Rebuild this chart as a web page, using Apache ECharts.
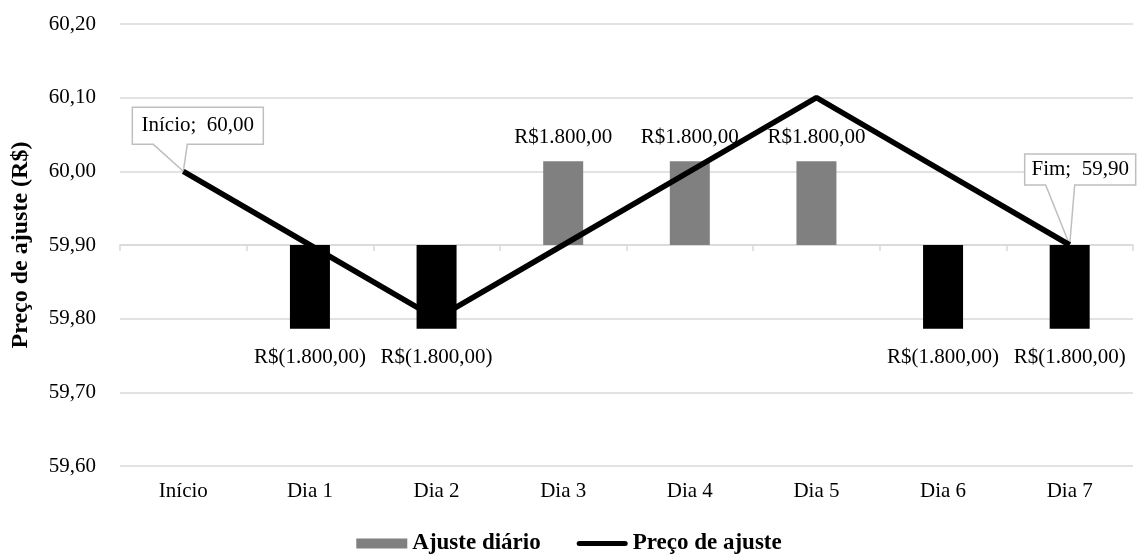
<!DOCTYPE html>
<html>
<head>
<meta charset="utf-8">
<style>
  html, body { margin: 0; padding: 0; background: #fff; }
  #chart { width: 1138px; height: 560px; }
</style>
<script src="https://cdn.jsdelivr.net/npm/echarts@6/dist/echarts.min.js"></script>
</head>
<body>
<div id="chart"></div>
<script>
// Categories along the x axis
const categories = ['Início', 'Dia 1', 'Dia 2', 'Dia 3', 'Dia 4', 'Dia 5', 'Dia 6', 'Dia 7'];
// Settlement price per day (R$)
const precoAjuste = [60.00, 59.90, 59.80, 59.90, 60.00, 60.10, 60.00, 59.90];
// Daily margin adjustment (R$)
const ajusteDiario = [null, -1800, -1800, 1800, 1800, 1800, -1800, -1800];
// Price axis ticks
const priceMin = 59.60;
const priceMax = 60.20;
const priceStep = 0.10;
// Callouts on the price line: [category index, caption]
const calloutPoints = [[0, 'Início'], [7, 'Fim']];

const FONT = '"Liberation Serif", "Times New Roman", serif';

function fmtNum(v, dec) {
  const parts = Math.abs(v).toFixed(dec).split('.');
  parts[0] = parts[0].replace(/\B(?=(\d{3})+(?!\d))/g, '.');
  return parts.join(',');
}
function fmtMoney(v) {
  return v < 0 ? 'R$(' + fmtNum(v, 2) + ')' : 'R$' + fmtNum(v, 2);
}

const barData = ajusteDiario.map(function (v) {
  if (v == null) return null;
  const neg = v < 0;
  return {
    value: v,
    itemStyle: { color: neg ? '#000000' : '#808080' },
    label: { position: neg ? 'bottom' : 'top', distance: neg ? 18 : 13 }
  };
});

const chart = echarts.init(document.getElementById('chart'), null, { renderer: 'canvas' });

chart.setOption({
  animation: false,
  backgroundColor: '#ffffff',
  textStyle: { fontFamily: FONT },
  grid: { left: 120, right: 5, top: 24, bottom: 94, containLabel: false },
  legend: {
    left: 'center',
    top: 527,
    itemWidth: 51,
    itemHeight: 10,
    itemGap: 36,
    textStyle: { fontFamily: FONT, fontSize: 23, fontWeight: 'bold', color: '#000' },
    data: [
      { name: 'Ajuste diário', icon: 'rect', itemStyle: { color: '#808080' } },
      {
        name: 'Preço de ajuste',
        icon: 'path://M2.5,0 L48.5,0 A2.5,2.5 0 0 1 48.5,5 L2.5,5 A2.5,2.5 0 0 1 2.5,0 Z',
        itemStyle: { color: '#000' }
      }
    ]
  },
  xAxis: {
    type: 'category',
    data: categories,
    boundaryGap: true,
    axisLine: { show: true, lineStyle: { color: '#d9d9d9', width: 1.5 } },
    axisTick: { show: true, length: 6, lineStyle: { color: '#d9d9d9', width: 1.5 } },
    axisLabel: { margin: 15, fontSize: 21, fontFamily: FONT, color: '#000' },
    splitLine: { show: false }
  },
  yAxis: [
    {
      type: 'value',
      min: priceMin,
      max: priceMax,
      interval: priceStep,
      name: 'Preço de ajuste (R$)',
      nameLocation: 'middle',
      nameGap: 87,
      nameTextStyle: { fontFamily: FONT, fontSize: 24, fontWeight: 'bold', color: '#000' },
      axisLine: { show: false },
      axisTick: { show: false },
      axisLabel: {
        margin: 24,
        fontSize: 21,
        fontFamily: FONT,
        color: '#000',
        formatter: function (v) { return fmtNum(v, 2); }
      },
      splitLine: { show: true, lineStyle: { color: '#d9d9d9', width: 1.5 } }
    },
    {
      type: 'value',
      min: -4750,
      max: 4750,
      show: false,
      splitLine: { show: false }
    }
  ],
  series: [
    {
      name: 'Ajuste diário',
      type: 'bar',
      yAxisIndex: 1,
      barWidth: 40,
      z: 2,
      itemStyle: { color: '#808080' },
      label: {
        show: true,
        fontSize: 21,
        fontFamily: FONT,
        color: '#000',
        formatter: function (p) { return fmtMoney(p.value); }
      },
      data: barData
    },
    {
      name: 'Preço de ajuste',
      type: 'line',
      yAxisIndex: 0,
      symbol: 'none',
      z: 5,
      itemStyle: { color: '#000' },
      lineStyle: { color: '#000', width: 5.5 },
      data: precoAjuste
    }
  ]
});

// Callout boxes with a pointer wedge, anchored to the line points
const calloutShapes = {
  0: { left: -51, right: 80, top: -64, bottom: -27, w1: -30, w2: 4 },
  7: { left: -45, right: 66, top: -91, bottom: -60, w1: -24, w2: 5 }
};
const graphics = calloutPoints.map(function (c) {
  const idx = c[0];
  const val = precoAjuste[idx];
  const p = chart.convertToPixel({ xAxisIndex: 0, yAxisIndex: 0 }, [idx, val]);
  const s = calloutShapes[idx];
  return {
    type: 'group',
    x: p[0],
    y: p[1],
    z: 10,
    children: [
      {
        type: 'polygon',
        shape: {
          points: [
            [s.left, s.top], [s.right, s.top], [s.right, s.bottom],
            [s.w2, s.bottom], [0, 0], [s.w1, s.bottom], [s.left, s.bottom]
          ]
        },
        style: { fill: '#ffffff', stroke: '#bfbfbf', lineWidth: 1.5 }
      },
      {
        type: 'text',
        x: (s.left + s.right) / 2,
        y: (s.top + s.bottom) / 2,
        style: {
          text: c[1] + ';  ' + fmtNum(val, 2),
          fill: '#000',
          font: '21px ' + FONT,
          align: 'center',
          verticalAlign: 'middle'
        }
      }
    ]
  };
});
chart.setOption({ graphic: graphics });
</script>
</body>
</html>
